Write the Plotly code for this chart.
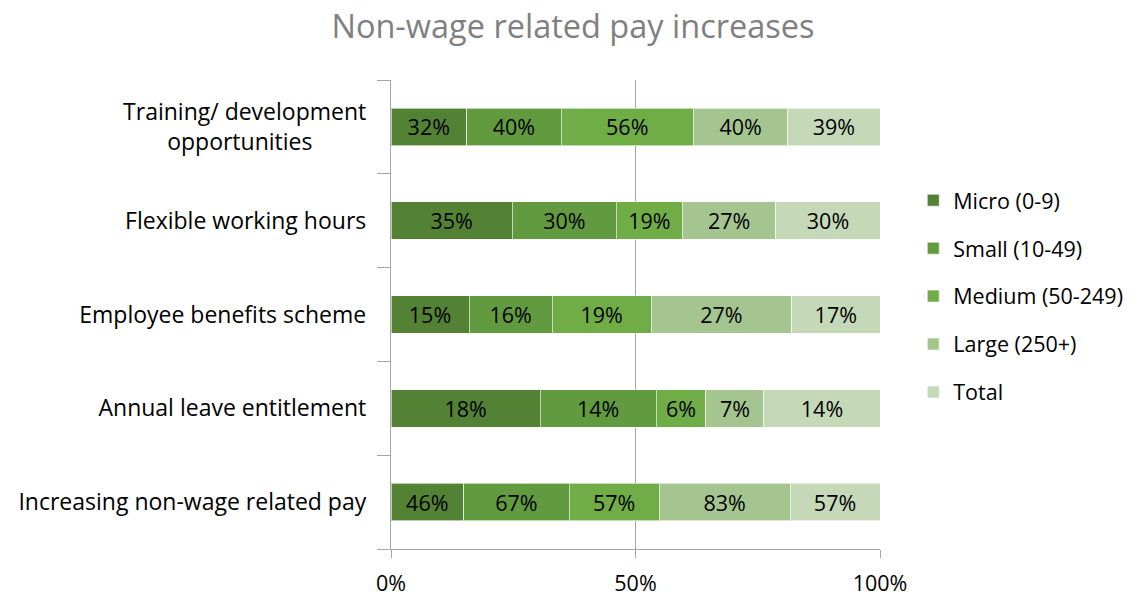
import plotly.graph_objects as go

NB = "\u00a0"
categories = [
    "Increasing non-wage related pay",
    "Annual leave entitlement",
    "Employee benefits scheme",
    "Flexible working hours",
    "Training/ development<br>opportunities" + NB * 9,
]
series_names = ["Micro (0-9)", "Small (10-49)", "Medium (50-249)", "Large (250+)", "Total"]
micro = [46, 18, 15, 35, 32]
small = [67, 14, 16, 30, 40]
medium = [57, 6, 19, 19, 56]
large = [83, 7, 27, 27, 40]
total = [57, 14, 17, 30, 39]
series_values = [micro, small, medium, large, total]
colors = ["#548235", "#629B3F", "#70AD47", "#A5C590", "#C5D9B8"]
x_tickvals = [0, 50, 100]
x_ticktext = ["0%", "50%", "100%"]

FONT = "Open Sans"
FS = 21.5
FS_CAT = 23

fig = go.Figure()
for name, vals, col in zip(series_names, series_values, colors):
    fig.add_trace(go.Bar(
        y=categories, x=vals, name=name, orientation="h", legendgroup=name,
        marker=dict(color=col, line=dict(color="rgba(255,255,255,0.6)", width=1)),
        text=[f"{v}%" for v in vals], textposition="inside",
        insidetextanchor="middle", textangle=0,
        textfont=dict(family=FONT, size=FS, color="#000000"),
        constraintext="none", hoverinfo="skip",
    ))

fig.update_layout(
    barmode="stack", barnorm="percent", bargap=0.6,
    width=1146, height=596,
    margin=dict(l=391, r=266, t=80, b=47, autoexpand=False),
    paper_bgcolor="white", plot_bgcolor="white",
    title=dict(text="Non-wage related pay increases", x=0.5, xanchor="center",
               y=0.956, yanchor="middle", automargin=False,
               font=dict(family=FONT, size=32.5, color="#7F7F7F")),
    font=dict(family=FONT, size=FS, color="#000000"),
    legend=dict(x=1.068, xanchor="left", y=0.539, yanchor="middle",
                traceorder="grouped", tracegroupgap=17,
                font=dict(family=FONT, size=FS, color="#000000"),
                itemwidth=30),
    showlegend=True,
    uniformtext=dict(mode=False),
)
fig.update_xaxes(range=[0, 100], tickvals=x_tickvals, ticktext=x_ticktext,
                 showgrid=True, gridcolor="#A6A6A6", gridwidth=1.3,
                 showline=True, linecolor="#A6A6A6", linewidth=1.3,
                 ticks="outside", ticklen=8, tickcolor="#A6A6A6", automargin=False,
                 zeroline=False, tickfont=dict(family=FONT, size=FS), ticklabelstandoff=7)
fig.update_yaxes(showline=True, linecolor="#A6A6A6", linewidth=1.3,
                 ticks="outside", ticklen=13, tickcolor="#A6A6A6", automargin=False,
                 tickson="boundaries", showgrid=False,
                 tickfont=dict(family=FONT, size=FS_CAT), ticklabelstandoff=19)
fig.write_html("out.html", config={"displayModeBar": False},
               post_script="document.body.style.margin='0';document.body.style.overflow='hidden';")
